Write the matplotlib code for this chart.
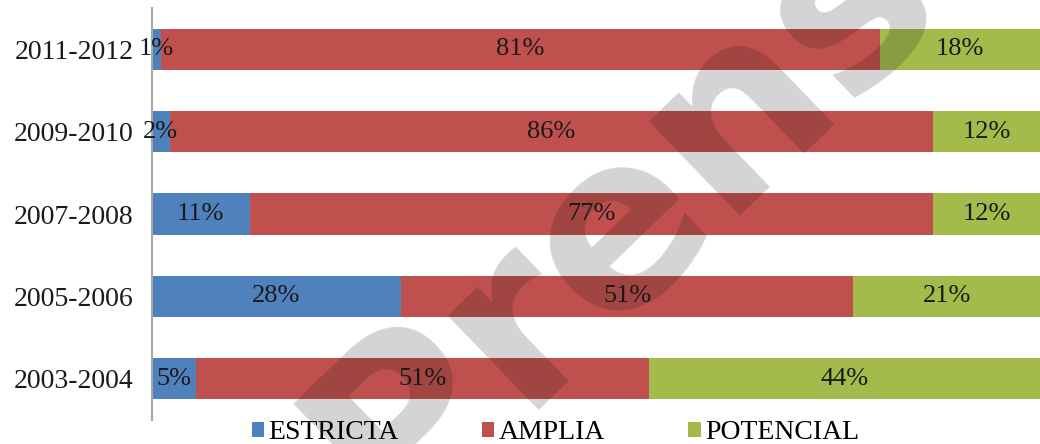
import numpy as np
import matplotlib.pyplot as plt

periodos = ["2003-2004", "2005-2006", "2007-2008", "2009-2010", "2011-2012"]
estricta = [5, 28, 11, 2, 1]
amplia = [51, 51, 77, 86, 81]
potencial = [44, 21, 12, 12, 18]

series = ["ESTRICTA", "AMPLIA", "POTENCIAL"]
colores = ["#4F81BD", "#C0504D", "#A4BA4B"]

plt.rcParams['font.family'] = ['Liberation Serif', 'DejaVu Serif']

fig = plt.figure(figsize=(10.4, 4.44), dpi=100)
ax = fig.add_axes([0.146, 0.054, 0.854, 0.928])

y = np.arange(len(periodos))
izq = np.zeros(len(periodos))
for nombre, vals, col in zip(series, [estricta, amplia, potencial], colores):
    vals = np.array(vals, dtype=float)
    ax.barh(y, vals, left=izq, height=0.5, color=col, label=nombre)
    for yi, l, v in zip(y, izq, vals):
        ax.text(l + v / 2, yi, f"{int(v)}%", ha='center', va='center',
                fontsize=19, color='#1a1a1a')
    izq = izq + vals

ax.set_xlim(0, 100)
ax.set_ylim(-0.5, len(periodos) - 0.5)
ax.set_yticks(y)
ax.set_yticklabels(periodos, fontsize=20, color='#1a1a1a')
ax.tick_params(axis='y', length=0, pad=13)
ax.set_xticks([])
for s in ['top', 'right', 'bottom']:
    ax.spines[s].set_visible(False)
ax.spines['left'].set_color('#a6a6a6')
ax.spines['left'].set_linewidth(1.5)

fig.legend(loc='center', bbox_to_anchor=(0.534, 0.025), ncol=3,
           frameon=False, fontsize=20, handlelength=0.45, handleheight=0.45,
           handletextpad=0.15, columnspacing=3.0, borderpad=0)

# marca de agua
fig.text(0.655, 0.64, "Prensa", fontsize=172, fontweight='bold',
         family='DejaVu Sans', color='#181818', alpha=0.19,
         rotation=44, ha='center', va='center')

fig.savefig("out.png", dpi=100)
